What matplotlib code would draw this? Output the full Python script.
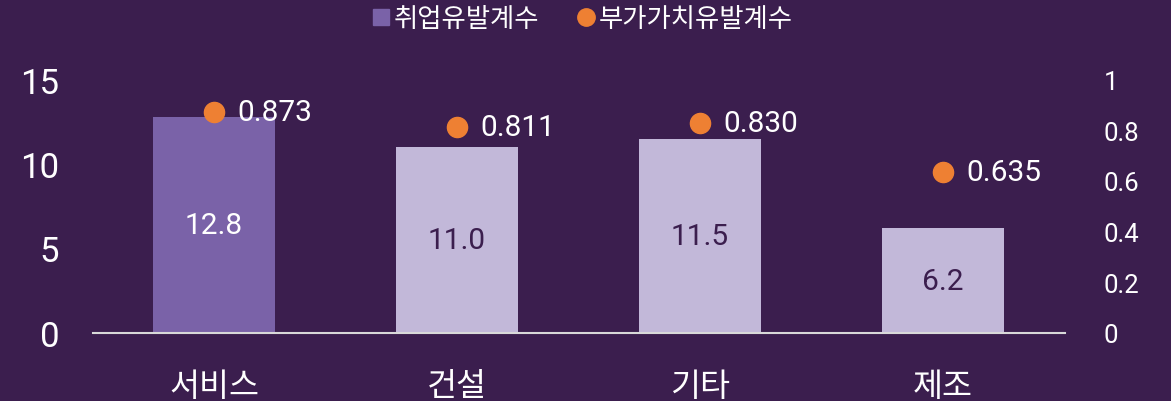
import matplotlib
matplotlib.use("Agg")
import matplotlib.pyplot as plt
from matplotlib.lines import Line2D

categories = ["서비스", "건설", "기타", "제조"]
employment = [12.8, 11.0, 11.5, 6.2]
value_added = [0.873, 0.811, 0.830, 0.635]
employment_labels = ["12.8", "11.0", "11.5", "6.2"]
value_added_labels = ["0.873", "0.811", "0.830", "0.635"]
left_ticks = [0, 5, 10, 15]
right_ticks = [0, 0.2, 0.4, 0.6, 0.8, 1.0]
right_tick_labels = ["0", "0.2", "0.4", "0.6", "0.8", "1"]

BG = "#3b1e4e"
DARK_BAR = "#7a62a8"
LIGHT_BAR = "#c2b8d9"
ORANGE = "#ee8033"
FONT = ["Roboto", "Noto Sans CJK KR", "DejaVu Sans"]
plt.rcParams["font.family"] = FONT

fig = plt.figure(figsize=(11.71, 4.02), dpi=100, facecolor=BG)
ax = fig.add_axes([92.5 / 1171, 68 / 402, 972 / 1171, 253.5 / 402])
ax.set_facecolor(BG)
x = list(range(len(categories)))
colors = [DARK_BAR] + [LIGHT_BAR] * (len(categories) - 1)
ax.bar(x, employment, width=0.5, color=colors, zorder=2)
ax.set_xlim(-0.5, len(categories) - 0.5)
ax.set_ylim(0, 15)
ax.set_yticks(left_ticks)
ax.set_yticklabels([str(t) for t in left_ticks])
ax.set_xticks(x)
ax.set_xticklabels(categories, fontsize=23.5, color="white")
ax.tick_params(axis="x", length=0, pad=27)
ax.tick_params(axis="y", length=0, labelsize=25, colors="white", pad=24)
for s in ["top", "right", "left"]:
    ax.spines[s].set_visible(False)
ax.spines["bottom"].set_color("#d9d9d9")
ax.spines["bottom"].set_linewidth(1.5)

for i, (v, lab) in enumerate(zip(employment, employment_labels)):
    ax.text(i, v / 2, lab, ha="center", va="center", fontsize=21.5,
            color="white" if i == 0 else BG, zorder=3)

ax2 = ax.twinx()
ax2.set_ylim(0, 1)
ax2.set_yticks(right_ticks)
ax2.set_yticklabels(right_tick_labels)
ax2.tick_params(axis="y", length=0, labelsize=18.5, colors="white", pad=28)
for s in ax2.spines.values():
    s.set_visible(False)
ax2.plot(x, value_added, linestyle="none", marker="o", markersize=14.5,
         color=ORANGE, zorder=4)
for i, (v, lab) in enumerate(zip(value_added, value_added_labels)):
    ax2.annotate(lab, (i, v), xytext=(17, 0), textcoords="offset points",
                 ha="left", va="center", fontsize=21.5, color="white")

handles = [
    Line2D([0], [0], marker="s", linestyle="none", markersize=11,
           color=DARK_BAR, label="취업유발계수"),
    Line2D([0], [0], marker="o", linestyle="none", markersize=12.5,
           color=ORANGE, label="부가가치유발계수"),
]
leg = fig.legend(handles=handles, loc="upper center",
                 bbox_to_anchor=(581 / 1171, 1.038), ncol=2, frameon=False,
                 fontsize=19, handletextpad=0.05, columnspacing=1.3,
                 handlelength=0.9, prop={"size": 19, "weight": "medium"})
for t in leg.get_texts():
    t.set_color("white")

fig.savefig("out.png", dpi=100, facecolor=BG)
